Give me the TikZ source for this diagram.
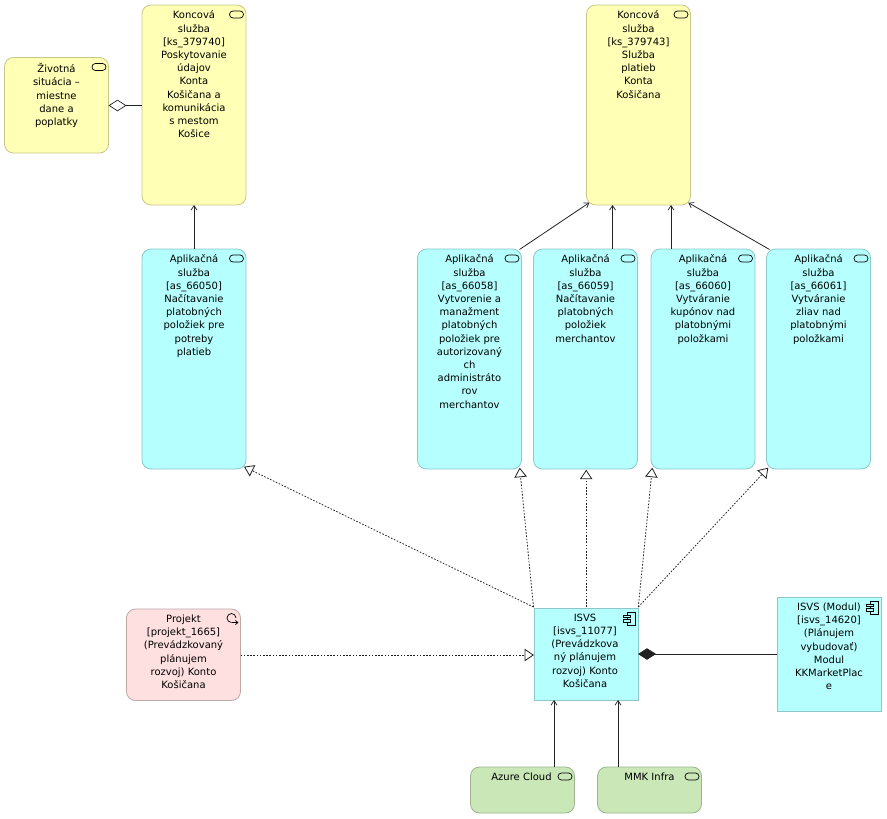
\documentclass[tikz,border=0pt]{standalone}
\usepackage{fontspec}
\setmainfont{DejaVu Sans}
\usetikzlibrary{arrows.meta,calc}
\definecolor{yel}{HTML}{FFFFB5}
\definecolor{yeld}{HTML}{C8C88C}
\definecolor{cya}{HTML}{B5FFFF}
\definecolor{cyad}{HTML}{8CC8C8}
\definecolor{pnk}{HTML}{FFE0E0}
\definecolor{pnkd}{HTML}{BFA8A8}
\definecolor{grn}{HTML}{C9E7B7}
\definecolor{grnd}{HTML}{9DB48F}
\definecolor{edge}{HTML}{222222}
\tikzset{
  x=1pt,y=-1pt,
  boxbase/.style={draw,line width=.8pt,inner sep=0pt,outer sep=0pt},
  service/.style={boxbase,rounded corners=9pt,draw=yeld,fill=yel},
  appsvc/.style={boxbase,rounded corners=9pt,draw=cyad,fill=cya},
  project/.style={boxbase,rounded corners=9pt,draw=pnkd,fill=pnk},
  tech/.style={boxbase,rounded corners=9pt,draw=grnd,fill=grn},
  comp/.style={boxbase,draw=cyad,fill=cya},
  txt/.style={anchor=north,align=center,inner sep=0pt,font=\fontsize{10}{13.2}\selectfont,text=black},
  assoc/.style={draw=edge,line width=.8pt,-{Straight Barb[length=4.5pt,width=6pt,line width=.7pt]}},
  realize/.style={draw=edge,line width=.8pt,dash pattern=on 1.6pt off 1.6pt,-{Triangle[open,length=9.5pt,width=12.5pt,line width=.8pt,fill=white]}},
  icon/.style={draw=black,line width=.7pt,rounded corners=3.4pt,fill=none},
}
% \elem{name}{style}{x1}{y1}{x2}{y2}{text offset}{text}
\newcommand{\elem}[8]{%
  \node[#2,minimum width=#5pt-#3pt,minimum height=#6pt-#4pt,anchor=north west] (#1) at (#3,#4) {};
  \node[txt] (#1t) at ($(#1.north)+(#7,5.7)$) {#8};
}
\newcommand{\svcicon}[1]{%
  \draw[icon] ($(#1.north east)+(-16.5,6)$) rectangle ($(#1.north east)+(-2.5,13)$);
}
\newcommand{\compicon}[1]{%
  \draw[line width=.6pt] ($(#1.north east)+(-11,4)$) rectangle ($(#1.north east)+(-3,17)$);
  \draw[line width=.6pt,fill=cya] ($(#1.north east)+(-14.5,7)$) rectangle ($(#1.north east)+(-8,9.5)$);
  \draw[line width=.6pt,fill=cya] ($(#1.north east)+(-14.5,11.5)$) rectangle ($(#1.north east)+(-8,14)$);
}
\begin{document}
\begin{tikzpicture}
\useasboundingbox (0,0) rectangle (887,819);
\elem{life}{service}{4.5}{57.5}{108.5}{153}{0}{Životná\\situácia –\\miestne\\dane a\\poplatky}
\elem{ksa}{service}{142}{5}{246}{205}{0}{Koncová\\služba\\{[ks\_379740]}\\Poskytovanie\\údajov\\Konta\\Košičana a\\komunikácia\\s mestom\\Košice}
\elem{ksb}{service}{586.5}{5}{690.5}{205}{0}{Koncová\\služba\\{[ks\_379743]}\\Služba\\platieb\\Konta\\Košičana}
\elem{asa}{appsvc}{142}{249}{246}{469}{0}{Aplikačná\\služba\\{[as\_66050]}\\Načítavanie\\platobných\\položiek pre\\potreby\\platieb}
\elem{asb}{appsvc}{417.5}{249}{521.5}{469}{0}{Aplikačná\\služba\\{[as\_66058]}\\Vytvorenie a\\manažment\\platobných\\položiek pre\\autorizovaný\\ch\\administráto\\rov\\merchantov}
\elem{asc}{appsvc}{533.5}{249}{637.5}{469}{0}{Aplikačná\\služba\\{[as\_66059]}\\Načítavanie\\platobných\\položiek\\merchantov}
\elem{asd}{appsvc}{651}{249}{755}{469}{0}{Aplikačná\\služba\\{[as\_66060]}\\Vytváranie\\kupónov nad\\platobnými\\položkami}
\elem{ase}{appsvc}{766.5}{249}{870.5}{469}{0}{Aplikačná\\služba\\{[as\_66061]}\\Vytváranie\\zliav nad\\platobnými\\položkami}
\elem{proj}{project}{126.5}{609}{240.5}{700.5}{0}{Projekt\\{[projekt\_1665]}\\(Prevádzkovaný\\plánujem\\rozvoj) Konto\\Košičana}
\elem{isvs}{comp}{534}{608}{638}{700}{-1}{ISVS\\{[isvs\_11077]}\\(Prevádzkova\\ný plánujem\\rozvoj) Konto\\Košičana}
\elem{modul}{comp}{777}{597}{881}{711}{0}{ISVS (Modul)\\{[isvs\_14620]}\\(Plánujem\\vybudovať)\\Modul\\KKMarketPlac\\e}
\elem{azure}{tech}{470.5}{767}{574.5}{813}{-1}{Azure Cloud}
\elem{mmk}{tech}{597.5}{767}{701.5}{813}{0}{MMK Infra}
\foreach \n in {life,ksa,ksb,asa,asb,asc,asd,ase,azure,mmk}{\svcicon{\n}}
\compicon{isvs}\compicon{modul}
% project icon
\draw[line width=.7pt] ($(proj.north east)+(-9,13.5)$) arc[start angle=270,end angle=0,radius=4.5pt];
\draw[line width=.7pt,-{Straight Barb[length=2.5pt,width=4pt]}] ($(proj.north east)+(-9,13.5)$) -- ($(proj.north east)+(-2,13.5)$);
% associations
\draw[assoc] (asa.north) -- (ksa.south);
\draw[assoc] ($(asb.north east)+(-2,.5)$) -- ($(ksb.south west)+(2.8,-2.3)$);
\draw[assoc] ($(asc.north west)+(79,0)$) -- ($(ksb.south west)+(26,0)$);
\draw[assoc] ($(asd.north west)+(20,0)$) -- ($(ksb.south west)+(84.5,0)$);
\draw[assoc] ($(ase.north west)+(3,.5)$) -- ($(ksb.south east)+(-2.2,-2.3)$);
\draw[assoc] ($(azure.north west)+(83.5,0)$) -- ($(isvs.south west)+(20,0)$);
\draw[assoc] ($(mmk.north west)+(20.5,0)$) -- ($(isvs.south west)+(84,0)$);
% realizations
\draw[realize] ($(isvs.north west)+(-.5,-1)$) -- ($(asa.south east)+(-2,-2.3)$);
\draw[realize] ($(isvs.north west)+(-.5,-1)$) -- ($(asb.south east)+(-1.8,-1.3)$);
\draw[realize] ($(isvs.north west)+(52.2,-1)$) -- ($(asc.south west)+(52.7,.7)$);
\draw[realize] ($(isvs.north east)+(.3,-1)$) -- ($(asd.south west)+(1.3,-1.3)$);
\draw[realize] ($(isvs.north east)+(.3,-1)$) -- ($(ase.south west)+(1.8,-1.3)$);
\draw[realize] (proj.east |- 0,655) -- (isvs.west |- 0,655);
% aggregation / composition
\draw[draw=edge,line width=.8pt,-{Diamond[open,length=18pt,width=11.5pt,line width=.7pt]}] (ksa.west |- 0,105.5) -- (life.east |- 0,105.5);
\draw[draw=edge,line width=.9pt,-{Diamond[length=18pt,width=11.5pt]}] (modul.west |- isvs.center) -- (isvs.east);
\end{tikzpicture}
\end{document}
